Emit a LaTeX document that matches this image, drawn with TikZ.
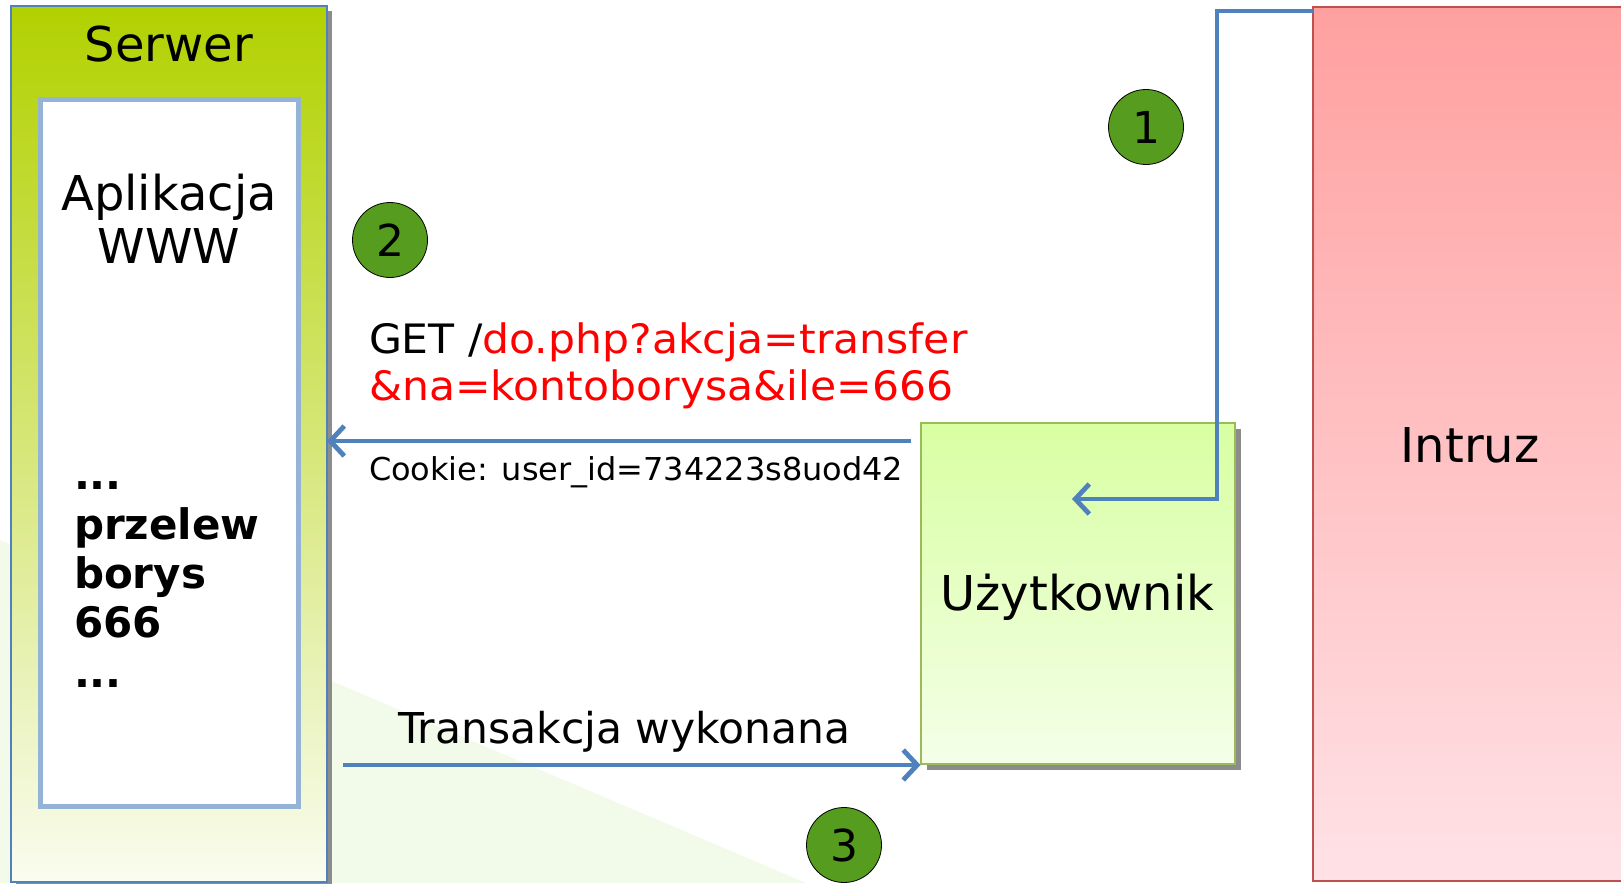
\documentclass[tikz,border=0pt]{standalone}
\usepackage{fontspec}
\setmainfont{DejaVu Sans}
\newfontfamily\getfont[FakeStretch=1.05]{DejaVu Sans}
\newfontfamily\cookiefont[FakeStretch=1.015]{DejaVu Sans}
\usetikzlibrary{arrows.meta,shadows}
\definecolor{arrblue}{HTML}{4F81BD}
\definecolor{srvtop}{HTML}{B2D100}
\definecolor{srvbot}{HTML}{FAFCF0}
\definecolor{appborder}{HTML}{95B3D7}
\definecolor{usrtop}{HTML}{D8FFA2}
\definecolor{usrbot}{HTML}{F4FFE8}
\definecolor{usrborder}{HTML}{9BBB59}
\definecolor{inttop}{HTML}{FFA0A0}
\definecolor{intbot}{HTML}{FFE2E6}
\definecolor{intborder}{HTML}{C0504D}
\definecolor{stepgreen}{RGB}{86,156,30}
\definecolor{swooshgreen}{HTML}{F2FAEA}
\definecolor{getred}{HTML}{FF0000}
\definecolor{shadowgray}{HTML}{8C8C8C}
\begin{document}
\begin{tikzpicture}[x=1pt,y=-1pt,
  box/.style={rectangle, inner sep=0pt, outer sep=0pt},
  txt/.style={inner sep=0pt, outer sep=0pt},
  fbig/.style={font=\fontsize{48}{52}\selectfont},
  fget/.style={font=\getfont\fontsize{40.5}{47}\selectfont},
  fcookie/.style={font=\cookiefont\fontsize{31.5}{36}\selectfont},
  ftrans/.style={font=\fontsize{42.5}{48}\selectfont},
  fbold/.style={font=\fontsize{42}{49}\selectfont\bfseries},
  stepnum/.style={circle, draw=black, line width=0.8pt, fill=stepgreen,
    minimum size=75pt, inner sep=0pt, font=\fontsize{44}{44}\selectfont},
  arr/.style={draw=arrblue, line width=4.8pt, -{Straight Barb[length=14pt,width=30pt]}}
]
\useasboundingbox (0,0) rectangle (1621,883);
\fill[white] (0,0) rectangle (1621,883);
% background swoosh
\fill[swooshgreen] (0,540) -- (806,883) -- (0,883) -- cycle;

% server
\node[box, draw=arrblue, line width=1.5pt, top color=srvtop, bottom color=srvbot,
  minimum width=316pt, minimum height=876pt,
  drop shadow={shadow xshift=5pt, shadow yshift=-5pt, fill=shadowgray, opacity=1}]
  (server) at (169,444) {};
\node[box, draw=appborder, line width=5pt, fill=white,
  minimum width=258pt, minimum height=707pt] (app) at (169.5,453) {};
\node[txt, fbig, anchor=base] (serwerlbl) at (169,62) {Serwer};
\node[txt, fbig, anchor=base] (app1) at (169,210) {Aplikacja};
\node[txt, fbig, anchor=base] (app2) at (169,263) {WWW};
\node[txt, fbold, anchor=base west] (b1) at (74,489) {...};
\node[txt, fbold, anchor=base west] (b2) at (74,539) {przelew};
\node[txt, fbold, anchor=base west] (b3) at (74,588) {borys};
\node[txt, fbold, anchor=base west] (b4) at (74,637) {666};
\node[txt, fbold, anchor=base west] (b5) at (74,687) {...};

% intruder
\node[box, draw=intborder, line width=2.5pt, top color=inttop, bottom color=intbot,
  minimum width=337pt, minimum height=874pt] (intruder) at (1481.5,444) {};
\node[txt, fbig, anchor=base] (intruzlbl) at (1470,462) {Intruz};

% user
\node[box, draw=usrborder, line width=2pt, top color=usrtop, bottom color=usrbot,
  minimum width=314pt, minimum height=341pt,
  drop shadow={shadow xshift=6pt, shadow yshift=-6pt, fill=shadowgray, opacity=1}]
  (user) at (1077.5,593) {};
\node[txt, fbig, anchor=base] (userlbl) at (1077.5,610) {Użytkownik};

% step circles
\node[stepnum] (s1) at (1146,127) {1};
\node[stepnum] (s2) at (390,240) {2};
\node[stepnum] (s3) at (844,845) {3};

% texts
\node[txt, fget, anchor=base west] (get1) at (369,353) {GET /\textcolor{getred}{do.php?akcja=transfer}};
\node[txt, fget, anchor=base west] (get2) at (369,400) {\textcolor{getred}{\&na=kontoborysa\&ile=666}};
\node[txt, fcookie, anchor=base west] (cookie) at (369,480) {Cookie: user\_id=734223s8uod42};
\node[txt, ftrans, anchor=base west] (trans) at (398,743) {Transakcja wykonana};

% connectors
\coordinate (y1) at (0,11);
\coordinate (bend1) at (1217,11);
\coordinate (bend2) at (1217,499);
\coordinate (tip1) at (1072,499);
\draw[arr] (intruder.west |- y1) -- (bend1) -- (bend2) -- (tip1);

\coordinate (y2) at (0,441);
\coordinate (start2) at (911,441);
\draw[arr] (start2) -- (server.east |- y2);

\coordinate (start3) at (343,765);
\draw[arr] (start3) -- (user.west |- start3);
\end{tikzpicture}
\end{document}
